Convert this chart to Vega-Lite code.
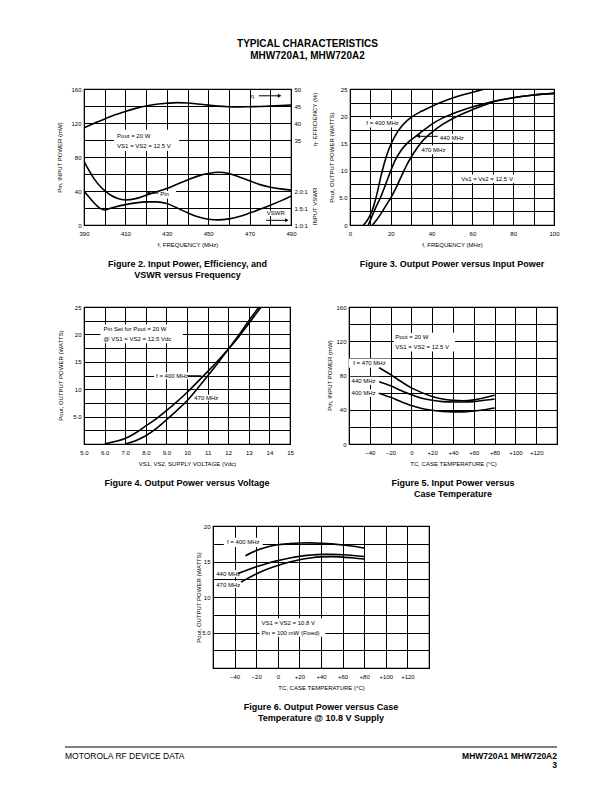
{
"$schema":"https://vega.github.io/schema/vega-lite/v6.json",
"background":"white",
"padding":{"left":55,"top":39,"right":0,"bottom":0},
"title":{"text":["TYPICAL CHARACTERISTICS","MHW720A1, MHW720A2"],"anchor":"middle","fontSize":10,"lineHeight":12,"offset":24},
"spacing":22,
"datasets":{
"f2pin":[{"f":390,"pin":75},{"f":392,"pin":66},{"f":395,"pin":54},{"f":398,"pin":45},{"f":400,"pin":40.5},{"f":403,"pin":35},{"f":406,"pin":31.5},{"f":410,"pin":29.5},{"f":415,"pin":31},{"f":420,"pin":35},{"f":425,"pin":39},{"f":430,"pin":43},{"f":435,"pin":48},{"f":440,"pin":53},{"f":445,"pin":57.5},{"f":450,"pin":60.5},{"f":455,"pin":62},{"f":460,"pin":60.5},{"f":465,"pin":56.5},{"f":470,"pin":52},{"f":475,"pin":47.5},{"f":480,"pin":44.5},{"f":485,"pin":42.5},{"f":490,"pin":41}],
"f2eff":[{"f":390,"eff":38.6},{"f":395,"eff":39.9},{"f":400,"eff":41.2},{"f":405,"eff":42.4},{"f":410,"eff":43.4},{"f":415,"eff":44.3},{"f":420,"eff":45.0},{"f":425,"eff":45.5},{"f":430,"eff":45.8},{"f":435,"eff":46.0},{"f":440,"eff":45.9},{"f":445,"eff":45.6},{"f":450,"eff":45.25},{"f":455,"eff":44.95},{"f":460,"eff":44.8},{"f":465,"eff":44.75},{"f":470,"eff":44.8},{"f":475,"eff":44.85},{"f":480,"eff":44.95},{"f":485,"eff":45.1},{"f":490,"eff":45.3}],
"f2vswr":[{"f":390,"vswr":2.0},{"f":393,"vswr":1.78},{"f":396,"vswr":1.58},{"f":398,"vswr":1.48},{"f":400,"vswr":1.44},{"f":402,"vswr":1.48},{"f":405,"vswr":1.53},{"f":410,"vswr":1.6},{"f":415,"vswr":1.65},{"f":420,"vswr":1.68},{"f":425,"vswr":1.68},{"f":430,"vswr":1.63},{"f":435,"vswr":1.5},{"f":440,"vswr":1.36},{"f":445,"vswr":1.24},{"f":450,"vswr":1.17},{"f":455,"vswr":1.15},{"f":460,"vswr":1.18},{"f":465,"vswr":1.25},{"f":470,"vswr":1.35},{"f":475,"vswr":1.46},{"f":480,"vswr":1.58},{"f":485,"vswr":1.71},{"f":490,"vswr":1.85}],
"f2box":[{"x1":404.5,"x2":436,"y1":87,"y2":112},{"x1":477.5,"x2":488.5,"y1":10.5,"y2":17},{"x1":426.3,"x2":434.5,"y1":31,"y2":40}],
"f2text":[{"x":406,"y":104.5,"t":"Pout = 20 W"},{"x":406,"y":93.5,"t":"VS1 = VS2 = 12.5 V"},{"x":470.5,"y":152,"t":"η"},{"x":426.8,"y":36,"t":"Pin"},{"x":478.3,"y":13.7,"t":"VSWR"}],
"f2arrow":[{"x1":474.5,"x2":484.5,"y":152,"hx":484.5,"dir":"right"},{"x1":421,"x2":426,"y":37.6,"hx":421,"dir":"left"},{"x1":478,"x2":488,"y":5.5,"hx":488,"dir":"right"}],
"f3":[
{"freq":"400","pin":6.5,"pout":0},{"freq":"400","pin":8,"pout":0.6},{"freq":"400","pin":10,"pout":1.9},{"freq":"400","pin":11,"pout":2.8},{"freq":"400","pin":12,"pout":4},{"freq":"400","pin":13,"pout":5.4},{"freq":"400","pin":14,"pout":7},{"freq":"400","pin":15,"pout":8.7},{"freq":"400","pin":16,"pout":10.2},{"freq":"400","pin":18,"pout":12.8},{"freq":"400","pin":20,"pout":14.8},{"freq":"400","pin":22,"pout":16.3},{"freq":"400","pin":25,"pout":18},{"freq":"400","pin":28,"pout":19.2},{"freq":"400","pin":30,"pout":19.8},{"freq":"400","pin":35,"pout":20.9},{"freq":"400","pin":40,"pout":21.8},{"freq":"400","pin":45,"pout":22.6},{"freq":"400","pin":50,"pout":23.3},{"freq":"400","pin":55,"pout":23.9},{"freq":"400","pin":60,"pout":24.4},{"freq":"400","pin":66,"pout":25},
{"freq":"440","pin":9,"pout":0},{"freq":"440","pin":10,"pout":0.9},{"freq":"440","pin":12,"pout":2.7},{"freq":"440","pin":15,"pout":5.1},{"freq":"440","pin":18,"pout":8},{"freq":"440","pin":20,"pout":10},{"freq":"440","pin":22,"pout":11.8},{"freq":"440","pin":25,"pout":13.7},{"freq":"440","pin":28,"pout":15},{"freq":"440","pin":30,"pout":15.7},{"freq":"440","pin":33,"pout":16.5},{"freq":"440","pin":35,"pout":17.1},{"freq":"440","pin":40,"pout":18.5},{"freq":"440","pin":45,"pout":19.6},{"freq":"440","pin":50,"pout":20.4},{"freq":"440","pin":55,"pout":21.1},{"freq":"440","pin":60,"pout":21.7},{"freq":"440","pin":65,"pout":22.2},{"freq":"440","pin":70,"pout":22.7},{"freq":"440","pin":80,"pout":23.4},{"freq":"440","pin":90,"pout":23.9},{"freq":"440","pin":100,"pout":24.2},
{"freq":"470","pin":11,"pout":0},{"freq":"470","pin":13,"pout":0.9},{"freq":"470","pin":15,"pout":2},{"freq":"470","pin":18,"pout":3.8},{"freq":"470","pin":20,"pout":5},{"freq":"470","pin":22,"pout":6.4},{"freq":"470","pin":25,"pout":8.8},{"freq":"470","pin":27.5,"pout":10.8},{"freq":"470","pin":30,"pout":12.5},{"freq":"470","pin":33,"pout":14.2},{"freq":"470","pin":35,"pout":15.2},{"freq":"470","pin":40,"pout":17.0},{"freq":"470","pin":45,"pout":18.4},{"freq":"470","pin":50,"pout":19.5},{"freq":"470","pin":55,"pout":20.4},{"freq":"470","pin":60,"pout":21.2},{"freq":"470","pin":65,"pout":21.9},{"freq":"470","pin":70,"pout":22.6},{"freq":"470","pin":80,"pout":23.4},{"freq":"470","pin":90,"pout":23.9},{"freq":"470","pin":100,"pout":24.2}],
"f3box":[{"x1":7.3,"x2":26.3,"y1":17.9,"y2":19.5},{"x1":43.5,"x2":58,"y1":15.3,"y2":16.8},{"x1":34.5,"x2":47.5,"y1":13,"y2":14.6},{"x1":54,"x2":81,"y1":7.7,"y2":9.3}],
"f3text":[{"x":8,"y":18.7,"t":"f = 400 MHz"},{"x":44,"y":16,"t":"440 MHz"},{"x":35,"y":13.8,"t":"470 MHz"},{"x":54.5,"y":8.5,"t":"Vs1 = Vs2 = 12.5 V"}],
"f3arrow":[{"x1":33.5,"x2":43,"y":16.3,"hx":33.5,"dir":"left"}],
"f4":[
{"freq":"400","v":6.0,"pout":0},{"freq":"400","v":6.5,"pout":0.45},{"freq":"400","v":7,"pout":1.0},{"freq":"400","v":7.5,"pout":2.0},{"freq":"400","v":8,"pout":3.3},{"freq":"400","v":8.5,"pout":4.6},{"freq":"400","v":9,"pout":6.1},{"freq":"400","v":9.5,"pout":7.7},{"freq":"400","v":10,"pout":9.4},{"freq":"400","v":10.5,"pout":11.3},{"freq":"400","v":11,"pout":13.2},{"freq":"400","v":11.5,"pout":15.2},{"freq":"400","v":12,"pout":17.3},{"freq":"400","v":12.5,"pout":19.5},{"freq":"400","v":13,"pout":22.0},{"freq":"400","v":13.6,"pout":25},
{"freq":"470","v":7.0,"pout":0},{"freq":"470","v":7.5,"pout":0.6},{"freq":"470","v":8,"pout":1.5},{"freq":"470","v":8.5,"pout":2.8},{"freq":"470","v":9,"pout":4.4},{"freq":"470","v":9.5,"pout":6.1},{"freq":"470","v":10,"pout":7.9},{"freq":"470","v":10.5,"pout":10.1},{"freq":"470","v":11,"pout":12.4},{"freq":"470","v":11.5,"pout":14.8},{"freq":"470","v":12,"pout":17.3},{"freq":"470","v":12.5,"pout":19.8},{"freq":"470","v":13,"pout":22.5},{"freq":"470","v":13.5,"pout":25}],
"f4box":[{"x1":5.8,"x2":9.8,"y1":18.4,"y2":21.8},{"x1":8.4,"x2":10.05,"y1":11.8,"y2":13.1},{"x1":10.25,"x2":11.6,"y1":7.9,"y2":9.0}],
"f4text":[{"x":5.95,"y":20.9,"t":"Pin Set for Pout = 20 W"},{"x":5.95,"y":19.2,"t":"@ VS1 = VS2 = 12.5 Vdc"},{"x":8.5,"y":12.45,"t":"f = 400 MHz"},{"x":10.35,"y":8.45,"t":"470 MHz"}],
"f4lead":[{"x1":10.05,"x2":10.7,"y":12.45}],
"f5":[
{"freq":"470","t":-31,"pin":89},{"freq":"470","t":-20,"pin":81},{"freq":"470","t":-10,"pin":73},{"freq":"470","t":0,"pin":65.5},{"freq":"470","t":10,"pin":60},{"freq":"470","t":20,"pin":55.5},{"freq":"470","t":30,"pin":52.5},{"freq":"470","t":40,"pin":51},{"freq":"470","t":50,"pin":50.5},{"freq":"470","t":60,"pin":51.5},{"freq":"470","t":70,"pin":54},{"freq":"470","t":80,"pin":57},
{"freq":"440","t":-31,"pin":72.7},{"freq":"440","t":-20,"pin":68},{"freq":"440","t":-10,"pin":62.5},{"freq":"440","t":0,"pin":57.5},{"freq":"440","t":10,"pin":53.5},{"freq":"440","t":20,"pin":51},{"freq":"440","t":30,"pin":49.5},{"freq":"440","t":40,"pin":49},{"freq":"440","t":50,"pin":49},{"freq":"440","t":60,"pin":49.5},{"freq":"440","t":70,"pin":51},{"freq":"440","t":80,"pin":52.5},
{"freq":"400","t":-31,"pin":59.4},{"freq":"400","t":-20,"pin":54.5},{"freq":"400","t":-10,"pin":49.5},{"freq":"400","t":0,"pin":45},{"freq":"400","t":10,"pin":41.5},{"freq":"400","t":20,"pin":39.5},{"freq":"400","t":30,"pin":38},{"freq":"400","t":40,"pin":37.5},{"freq":"400","t":50,"pin":37.5},{"freq":"400","t":60,"pin":38.5},{"freq":"400","t":70,"pin":40},{"freq":"400","t":80,"pin":42}],
"f5box":[{"x1":-17,"x2":42,"y1":108,"y2":130},{"x1":-60,"x2":-20,"y1":89,"y2":100},{"x1":-59,"x2":-31.5,"y1":69,"y2":78.5},{"x1":-59,"x2":-31.5,"y1":55,"y2":64}],
"f5text":[{"x":-15.5,"y":124.5,"t":"Pout = 20 W"},{"x":-15.5,"y":113,"t":"VS1 = VS2 = 12.5 V"},{"x":-56,"y":94.3,"t":"f = 470 MHz"},{"x":-57.5,"y":73.5,"t":"440 MHz"},{"x":-57.5,"y":59.4,"t":"400 MHz"}],
"f6":[
{"freq":"400","t":-30,"pout":15.8},{"freq":"400","t":-20,"pout":16.55},{"freq":"400","t":-10,"pout":17.05},{"freq":"400","t":0,"pout":17.35},{"freq":"400","t":10,"pout":17.5},{"freq":"400","t":20,"pout":17.6},{"freq":"400","t":30,"pout":17.62},{"freq":"400","t":40,"pout":17.58},{"freq":"400","t":50,"pout":17.48},{"freq":"400","t":60,"pout":17.33},{"freq":"400","t":70,"pout":17.15},{"freq":"400","t":80,"pout":16.9},
{"freq":"440","t":-37,"pout":13.3},{"freq":"440","t":-30,"pout":13.7},{"freq":"440","t":-20,"pout":14.25},{"freq":"440","t":-10,"pout":14.72},{"freq":"440","t":0,"pout":15.12},{"freq":"440","t":10,"pout":15.45},{"freq":"440","t":20,"pout":15.72},{"freq":"440","t":30,"pout":15.9},{"freq":"440","t":40,"pout":16.0},{"freq":"440","t":50,"pout":16.0},{"freq":"440","t":60,"pout":15.95},{"freq":"440","t":70,"pout":15.85},{"freq":"440","t":80,"pout":15.7},
{"freq":"470","t":-34,"pout":12.1},{"freq":"470","t":-30,"pout":12.45},{"freq":"470","t":-20,"pout":13.25},{"freq":"470","t":-10,"pout":13.9},{"freq":"470","t":0,"pout":14.45},{"freq":"470","t":10,"pout":14.9},{"freq":"470","t":20,"pout":15.25},{"freq":"470","t":30,"pout":15.5},{"freq":"470","t":40,"pout":15.65},{"freq":"470","t":50,"pout":15.68},{"freq":"470","t":60,"pout":15.62},{"freq":"470","t":70,"pout":15.5},{"freq":"470","t":80,"pout":15.35}],
"f6box":[{"x1":-50,"x2":-14,"y1":17.05,"y2":18.35},{"x1":-58,"x2":-37,"y1":12.8,"y2":13.8},{"x1":-58,"x2":-34,"y1":11.25,"y2":12.3},{"x1":-17,"x2":44,"y1":4.4,"y2":7.0}],
"f6text":[{"x":-47,"y":17.7,"t":"f = 400 MHz"},{"x":-57,"y":13.3,"t":"440 MHz"},{"x":-57,"y":11.75,"t":"470 MHz"},{"x":-15.2,"y":6.3,"t":"VS1 = VS2 = 10.8 V"},{"x":-15.2,"y":5.0,"t":"Pin = 100 mW (Fixed)"}],
"footrule":[{"a":0,"b":1,"r":0}],
"foottext":[{"a":0,"r":1,"t":"MOTOROLA RF DEVICE DATA"},{"a":1,"r":1,"t":"MHW720A1 MHW720A2"},{"a":1,"r":2,"t":"3"}]
},
"vconcat":[
{"hconcat":[
{"width":1,"height":1,"view":{"stroke":null},"data":{"values":[{"v":0}]},"mark":{"type":"point","opacity":0},"encoding":{}},
{"hconcat":[
{"width":207,"height":136,
"title":{"text":["Figure 2. Input Power, Efficiency, and","VSWR versus Frequency"],"orient":"bottom","anchor":"middle","frame":"group","offset":13,"lineHeight":11},
"resolve":{"scale":{"y":"independent"},"axis":{"y":"independent"}},
"layer":[
{"layer":[
{"data":{"name":"f2box"},"mark":{"type":"rect","fill":"white"},"encoding":{
"x":{"field":"x1","type":"quantitative","scale":{"domain":[390,490],"nice":false,"zero":false},"axis":{"values":[390,400,410,420,430,440,450,460,470,480,490],"tickCount":50,"labelExpr":"(datum.value - 390) % 20 === 0 ? format(datum.value,'d') : ''","title":"f, FREQUENCY (MHz)"}},
"x2":{"field":"x2"},
"y":{"field":"y1","type":"quantitative","scale":{"domain":[0,160],"nice":false,"zero":false},"axis":{"values":[0,20,40,60,80,100,120,140,160],"tickCount":50,"labelExpr":"datum.value % 40 === 0 ? format(datum.value,'d') : ''","title":"Pin, INPUT POWER (mW)","titleX":-25,"titleY":68,"titleBaseline":"middle","titleAngle":270}},
"y2":{"field":"y2"}}},
{"data":{"name":"f2pin"},"mark":{"type":"line","clip":true},"encoding":{"x":{"field":"f","type":"quantitative"},"y":{"field":"pin","type":"quantitative"}}},
{"data":{"name":"f2text"},"mark":{"type":"text"},"encoding":{"x":{"field":"x","type":"quantitative"},"y":{"field":"y","type":"quantitative"},"text":{"field":"t"}}},
{"data":{"name":"f2arrow"},"mark":{"type":"rule"},"encoding":{"x":{"field":"x1","type":"quantitative"},"x2":{"field":"x2"},"y":{"field":"y","type":"quantitative"}}},
{"data":{"name":"f2arrow"},"mark":{"type":"point"},"encoding":{"x":{"field":"hx","type":"quantitative"},"y":{"field":"y","type":"quantitative"},"shape":{"field":"dir","type":"nominal","scale":{"domain":["right","left"],"range":["triangle-right","triangle-left"]},"legend":null}}}
]},
{"data":{"name":"f2eff"},"mark":{"type":"line","clip":true},"encoding":{"x":{"field":"f","type":"quantitative"},"y":{"field":"eff","type":"quantitative","scale":{"domain":[10,50],"nice":false,"zero":false},"axis":{"orient":"right","values":[35,40,45,50],"tickCount":50,"format":"d","grid":false,"title":"η- EFFICIENCY (%)","titleAngle":270,"titleX":23,"titleY":30,"titleAlign":"center","titleBaseline":"middle"}}}},
{"data":{"name":"f2vswr"},"mark":{"type":"line","clip":true},"encoding":{"x":{"field":"f","type":"quantitative"},"y":{"field":"vswr","type":"quantitative","scale":{"domain":[1,5],"nice":false,"zero":false},"axis":{"orient":"right","values":[1,1.5,2],"tickCount":50,"labelExpr":"format(datum.value,'.1f') + ':1'","grid":false,"title":"INPUT VSWR","titleAngle":270,"titleX":23,"titleY":117,"titleAlign":"center","titleBaseline":"middle"}}}}
]},
{"width":204,"height":136,
"title":{"text":"Figure 3.  Output Power versus Input Power","orient":"bottom","anchor":"middle","frame":"group","offset":13},
"layer":[
{"data":{"name":"f3box"},"mark":{"type":"rect","fill":"white"},"encoding":{
"x":{"field":"x1","type":"quantitative","scale":{"domain":[0,100],"nice":false,"zero":false},"axis":{"values":[0,10,20,30,40,50,60,70,80,90,100],"tickCount":50,"labelExpr":"datum.value % 20 === 0 ? format(datum.value,'d') : ''","title":"f, FREQUENCY (MHz)"}},
"x2":{"field":"x2"},
"y":{"field":"y1","type":"quantitative","scale":{"domain":[0,25],"nice":false,"zero":false},"axis":{"values":[0,2.5,5,7.5,10,12.5,15,17.5,20,22.5,25],"tickCount":50,"labelExpr":"datum.value === 5 ? '5.0' : (datum.value % 5 === 0 ? format(datum.value,'d') : '')","title":"Pout, OUTPUT POWER (WATTS)","titleX":-19,"titleY":68,"titleBaseline":"middle","titleAngle":270}},
"y2":{"field":"y2"}}},
{"data":{"name":"f3"},"mark":{"type":"line","clip":true},"encoding":{"x":{"field":"pin","type":"quantitative"},"y":{"field":"pout","type":"quantitative"},"detail":{"field":"freq","type":"nominal"}}},
{"data":{"name":"f3text"},"mark":{"type":"text"},"encoding":{"x":{"field":"x","type":"quantitative"},"y":{"field":"y","type":"quantitative"},"text":{"field":"t"}}},
{"data":{"name":"f3arrow"},"mark":{"type":"rule"},"encoding":{"x":{"field":"x1","type":"quantitative"},"x2":{"field":"x2"},"y":{"field":"y","type":"quantitative"}}},
{"data":{"name":"f3arrow"},"mark":{"type":"point","shape":"triangle-left"},"encoding":{"x":{"field":"hx","type":"quantitative"},"y":{"field":"y","type":"quantitative"}}}
]}
],"spacing":59,"bounds":"flush"}
],"spacing":18,"bounds":"flush"},
{"hconcat":[
{"width":1,"height":1,"view":{"stroke":null},"data":{"values":[{"v":0}]},"mark":{"type":"point","opacity":0},"encoding":{}},
{"hconcat":[
{"width":206,"height":137,
"title":{"text":"Figure 4. Output Power versus Voltage","orient":"bottom","anchor":"middle","frame":"group","offset":13},
"layer":[
{"data":{"name":"f4box"},"mark":{"type":"rect","fill":"white"},"encoding":{
"x":{"field":"x1","type":"quantitative","scale":{"domain":[5,15],"nice":false,"zero":false},"axis":{"values":[5,6,7,8,9,10,11,12,13,14,15],"tickCount":50,"labelExpr":"datum.value < 10 ? format(datum.value,'.1f') : format(datum.value,'d')","title":"VS1, VS2, SUPPLY VOLTAGE (Vdc)"}},
"x2":{"field":"x2"},
"y":{"field":"y1","type":"quantitative","scale":{"domain":[0,25],"nice":false,"zero":false},"axis":{"values":[0,2.5,5,7.5,10,12.5,15,17.5,20,22.5,25],"tickCount":50,"labelExpr":"datum.value === 5 ? '5.0' : (datum.value > 0 && datum.value % 5 === 0 ? format(datum.value,'d') : '')","title":"Pout, OUTPUT POWER (WATTS)","titleX":-24,"titleY":68,"titleBaseline":"middle","titleAngle":270}},
"y2":{"field":"y2"}}},
{"data":{"name":"f4"},"mark":{"type":"line","clip":true},"encoding":{"x":{"field":"v","type":"quantitative"},"y":{"field":"pout","type":"quantitative"},"detail":{"field":"freq","type":"nominal"}}},
{"data":{"name":"f4text"},"mark":{"type":"text"},"encoding":{"x":{"field":"x","type":"quantitative"},"y":{"field":"y","type":"quantitative"},"text":{"field":"t"}}},
{"data":{"name":"f4lead"},"mark":{"type":"rule"},"encoding":{"x":{"field":"x1","type":"quantitative"},"x2":{"field":"x2"},"y":{"field":"y","type":"quantitative"}}}
]},
{"width":208,"height":137,
"title":{"text":["Figure 5. Input Power versus","Case Temperature"],"orient":"bottom","anchor":"middle","frame":"group","offset":13,"lineHeight":11},
"layer":[
{"data":{"name":"f5box"},"mark":{"type":"rect","fill":"white"},"encoding":{
"x":{"field":"x1","type":"quantitative","scale":{"domain":[-60,140],"nice":false,"zero":false},"axis":{"values":[-60,-40,-20,0,20,40,60,80,100,120,140],"tickCount":50,"labelExpr":"datum.value === -60 || datum.value === 140 ? '' : (datum.value > 0 ? '+' + format(datum.value,'d') : format(datum.value,'d'))","title":"TC, CASE TEMPERATURE (°C)"}},
"x2":{"field":"x2"},
"y":{"field":"y1","type":"quantitative","scale":{"domain":[0,160],"nice":false,"zero":false},"axis":{"values":[0,20,40,60,80,100,120,140,160],"tickCount":50,"labelExpr":"datum.value % 40 === 0 ? format(datum.value,'d') : ''","title":"Pin, INPUT POWER (mW)","titleX":-20,"titleY":68,"titleBaseline":"middle","titleAngle":270}},
"y2":{"field":"y2"}}},
{"data":{"name":"f5"},"mark":{"type":"line","clip":true},"encoding":{"x":{"field":"t","type":"quantitative"},"y":{"field":"pin","type":"quantitative"},"detail":{"field":"freq","type":"nominal"}}},
{"data":{"name":"f5text"},"mark":{"type":"text"},"encoding":{"x":{"field":"x","type":"quantitative"},"y":{"field":"y","type":"quantitative"},"text":{"field":"t"}}}
]}
],"spacing":59,"bounds":"flush"}
],"spacing":18,"bounds":"flush"},
{"hconcat":[
{"width":1,"height":1,"view":{"stroke":null},"data":{"values":[{"v":0}]},"mark":{"type":"point","opacity":0},"encoding":{}},
{"width":216,"height":142,
"title":{"text":["Figure 6. Output Power versus Case","Temperature @ 10.8 V Supply"],"orient":"bottom","anchor":"middle","frame":"group","offset":13,"lineHeight":11},
"layer":[
{"data":{"name":"f6box"},"mark":{"type":"rect","fill":"white"},"encoding":{
"x":{"field":"x1","type":"quantitative","scale":{"domain":[-60,140],"nice":false,"zero":false},"axis":{"values":[-60,-40,-20,0,20,40,60,80,100,120,140],"tickCount":50,"labelExpr":"datum.value === -60 || datum.value === 140 ? '' : (datum.value > 0 ? '+' + format(datum.value,'d') : format(datum.value,'d'))","title":"TC, CASE TEMPERATURE (°C)"}},
"x2":{"field":"x2"},
"y":{"field":"y1","type":"quantitative","scale":{"domain":[0,20],"nice":false,"zero":false},"axis":{"values":[0,2.5,5,7.5,10,12.5,15,17.5,20],"tickCount":50,"labelExpr":"datum.value === 5 ? '5.0' : (datum.value > 0 && datum.value % 5 === 0 ? format(datum.value,'d') : '')","title":"Pout, OUTPUT POWER (WATTS)","titleX":-15,"titleY":71,"titleBaseline":"middle","titleAngle":270}},
"y2":{"field":"y2"}}},
{"data":{"name":"f6"},"mark":{"type":"line","clip":true},"encoding":{"x":{"field":"t","type":"quantitative"},"y":{"field":"pout","type":"quantitative"},"detail":{"field":"freq","type":"nominal"}}},
{"data":{"name":"f6text"},"mark":{"type":"text"},"encoding":{"x":{"field":"x","type":"quantitative"},"y":{"field":"y","type":"quantitative"},"text":{"field":"t"}}}
]}
],"spacing":147,"bounds":"flush"},
{"width":492,"height":18,"view":{"stroke":null},
"layer":[
{"data":{"name":"footrule"},"mark":{"type":"rule","strokeWidth":1.2},"encoding":{"x":{"field":"a","type":"quantitative","scale":{"domain":[0,1]},"axis":null},"x2":{"field":"b"},"y":{"field":"r","type":"quantitative","scale":{"domain":[0,2],"reverse":true},"axis":null}}},
{"data":{"name":"foottext"},"transform":[{"filter":"datum.a === 0"}],"mark":{"type":"text","align":"left","fontSize":8.5},"encoding":{"x":{"field":"a","type":"quantitative"},"y":{"field":"r","type":"quantitative"},"text":{"field":"t"}}},
{"data":{"name":"foottext"},"transform":[{"filter":"datum.a === 1"}],"mark":{"type":"text","align":"right","fontSize":8.5,"fontWeight":"bold"},"encoding":{"x":{"field":"a","type":"quantitative"},"y":{"field":"r","type":"quantitative"},"text":{"field":"t"}}}
]}
],
"config":{
"font":"Liberation Sans",
"view":{"stroke":"black","strokeWidth":1.2},
"axis":{"grid":true,"gridColor":"black","gridWidth":1,"gridOpacity":1,"domain":false,"ticks":false,"tickSize":0,"tickCount":50,"labelFont":"Liberation Sans","labelFontSize":6,"labelColor":"black","labelFlush":false,"labelOverlap":false,"titleFont":"Liberation Sans","titleFontSize":6,"titleFontWeight":"normal","titleColor":"black"},
"axisX":{"labelPadding":5,"titlePadding":5},
"axisY":{"labelPadding":3},
"title":{"font":"Liberation Sans","fontSize":9,"fontWeight":"bold","color":"black"},
"line":{"color":"black","strokeWidth":1.6,"interpolate":"monotone"},
"rule":{"color":"black","strokeWidth":1},
"text":{"font":"Liberation Sans","fontSize":6,"color":"black","align":"left","baseline":"middle"},
"point":{"filled":true,"color":"black","opacity":1,"size":16}
}
}
